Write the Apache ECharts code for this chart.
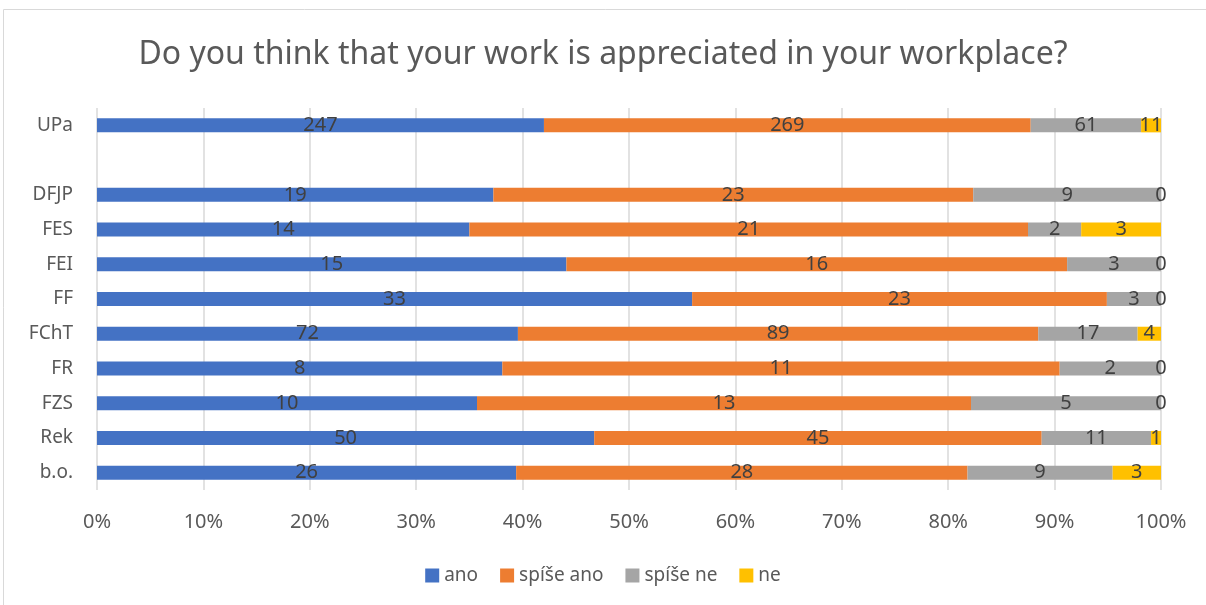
<!DOCTYPE html>
<html><head><meta charset="utf-8">
<script src="https://cdn.jsdelivr.net/npm/echarts@6/dist/echarts.min.js"></script>
<style>html,body{margin:0;padding:0;background:#fff}#c{width:1206px;height:605px}</style>
</head><body><div id="c"></div>
<script>
const categories = ['UPa', '', 'DFJP', 'FES', 'FEI', 'FF', 'FChT', 'FR', 'FZS', 'Rek', 'b.o.'];
const seriesNames = ['ano', 'spíše ano', 'spíše ne', 'ne'];
const ano      = [247, null, 19, 14, 15, 33, 72, 8, 10, 50, 26];
const spiseAno = [269, null, 23, 21, 16, 23, 89, 11, 13, 45, 28];
const spiseNe  = [61, null, 9, 2, 3, 3, 17, 2, 5, 11, 9];
const ne       = [11, null, 0, 3, 0, 0, 4, 0, 0, 1, 3];
const xTicks = ['0%','10%','20%','30%','40%','50%','60%','70%','80%','90%','100%'];
const colors = ['#4472c4', '#ed7d31', '#a5a5a5', '#ffc000'];

const all = [ano, spiseAno, spiseNe, ne];
const totals = categories.map((c, i) => all.reduce((s, a) => s + (a[i] || 0), 0));
const font = 'Noto Sans';

const chart = echarts.init(document.getElementById('c'));
chart.setOption({
  animation: false,
  graphic: [{type: 'rect', shape: {x: 3.5, y: 9.5, width: 1210, height: 610}, style: {fill: 'none', stroke: '#d9d9d9', lineWidth: 1}}],
  title: {text: 'Do you think that your work is appreciated in your workplace?', left: 'center', top: 34,
    textStyle: {fontFamily: font, fontSize: 32, fontWeight: 'normal', color: '#595959'}},
  legend: {data: seriesNames, bottom: 15, left: 'center', icon: 'rect', itemWidth: 14, itemHeight: 14, itemGap: 22,
    textStyle: {fontFamily: font, fontSize: 19, color: '#595959'}},
  grid: {left: 97, right: 45, top: 108, bottom: 115},
  xAxis: {type: 'value', min: 0, max: 100, interval: 10,
    axisLabel: {formatter: v => xTicks[Math.round(v / 10)], fontFamily: font, fontSize: 20, color: '#595959', margin: 22},
    splitLine: {show: true, lineStyle: {color: '#d9d9d9', width: 1.5}},
    axisLine: {show: false}, axisTick: {show: false}},
  yAxis: {type: 'category', data: categories, inverse: true,
    axisLabel: {fontFamily: font, fontSize: 19, color: '#595959', margin: 24},
    axisLine: {show: false}, axisTick: {show: false}},
  series: all.map((arr, si) => ({
    name: seriesNames[si], type: 'bar', stack: 'total', barWidth: 14,
    itemStyle: {color: colors[si]},
    data: arr.map((v, i) => v === null ? '-' : v / totals[i] * 100),
    label: {show: true, position: 'inside', fontFamily: font, fontSize: 20, color: '#404040',
      formatter: p => String(arr[p.dataIndex])}
  }))
});
</script></body></html>
